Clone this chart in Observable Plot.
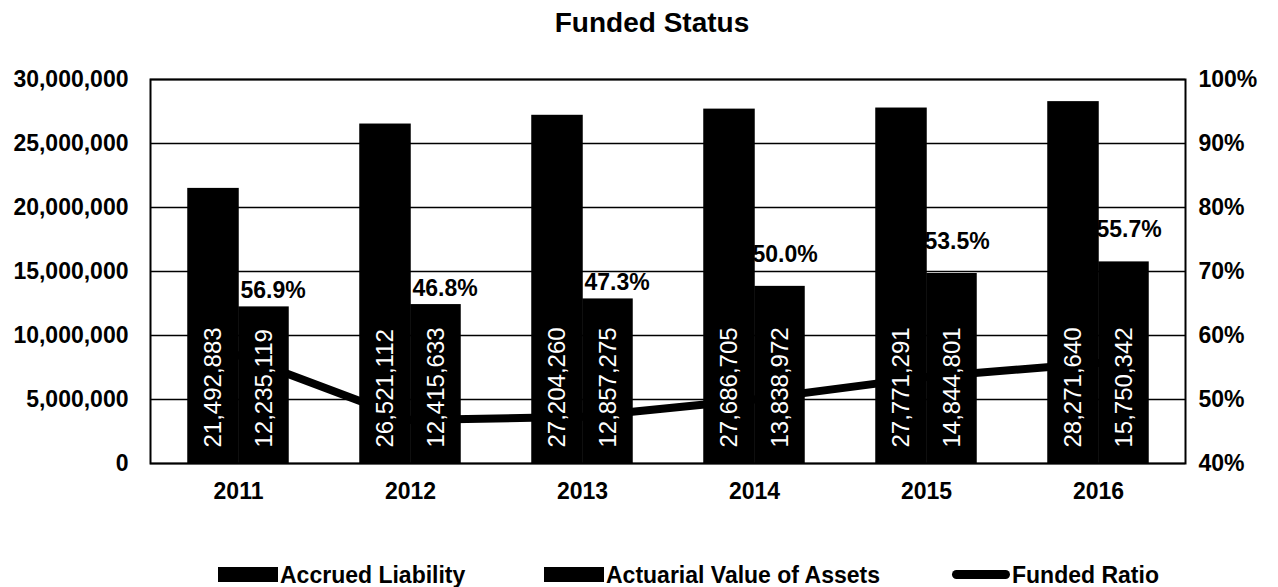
<!DOCTYPE html>
<html><head><meta charset="utf-8">
<script src="https://cdn.jsdelivr.net/npm/d3@7"></script>
<script src="https://cdn.jsdelivr.net/npm/@observablehq/plot@0.6"></script>
<style>
body{margin:0;background:#fff;font-family:"Liberation Sans",Arial,Helvetica,sans-serif;color:#000;}
#wrap{position:relative;width:1278px;height:587px;overflow:hidden;background:#fff}
#title{position:relative;height:50px;}
#title span{position:absolute;left:0;width:1304px;top:9px;text-align:center;font-weight:bold;font-size:28px;line-height:28px;}
#chart svg{display:block}
#legend{position:relative;height:67px;}
#legend .t{position:absolute;top:44px;font-weight:bold;font-size:23px;line-height:23px;white-space:nowrap}
#legend .sw{position:absolute;background:#000}
</style></head>
<body>
<div id="wrap">
  <div id="title"><span>Funded Status</span></div>
  <div id="chart"></div>
  <div id="legend"></div>
</div>
<script>
const years = ["2011", "2012", "2013", "2014", "2015", "2016"];
const accruedLiability = [21492883, 26521112, 27204260, 27686705, 27771291, 28271640];
const actuarialAssets = [12235119, 12415633, 12857275, 13838972, 14844801, 15750342];
const fundedRatio = [56.9, 46.8, 47.3, 50.0, 53.5, 55.7];
const leftTicks = [0, 5000000, 10000000, 15000000, 20000000, 25000000, 30000000];
const rightTicks = [40, 50, 60, 70, 80, 90, 100];
const seriesNames = ["Accrued Liability", "Actuarial Value of Assets", "Funded Ratio"];

const yMax = 30000000, pMin = 40, pMax = 100;
const toY = p => (p - pMin) / (pMax - pMin) * yMax;
const fromY = v => v / yMax * (pMax - pMin) + pMin;

const data = years.map((y, i) => ({
  year: y, accrued: accruedLiability[i], assets: actuarialAssets[i],
  ratio: fundedRatio[i], ry: toY(fundedRatio[i]), i
}));

const W = 1278, mL = 150, mR = 93;
const step = (W - mL - mR) / years.length;
const half = step / 2, barW = 51;
const fmt = d3.format(",");

const chart = Plot.plot({
  width: W, height: 470,
  marginTop: 29, marginBottom: 57, marginLeft: mL, marginRight: mR,
  style: {fontFamily: '"Liberation Sans", Arial, sans-serif', fontSize: "23px", fontWeight: "bold", color: "#000", background: "#fff"},
  x: {domain: years, padding: 0, label: null},
  y: {domain: [0, yMax], label: null},
  marks: [
    Plot.ruleY(leftTicks, {stroke: "#000", strokeWidth: 1.5}),
    Plot.lineY(data, {x: "year", y: "ry", stroke: "#000", strokeWidth: 8}),
    Plot.text(data.filter(d => d.i < 3), {x: "year", y: "assets", text: d => d.ratio.toFixed(1) + "%", textAnchor: "start", dx: 2, dy: -16, fontWeight: "bold", fontSize: 23, fill: "#000"}),
    Plot.text(data.filter(d => d.i >= 3), {x: "year", y: "assets", text: d => d.ratio.toFixed(1) + "%", textAnchor: "start", dx: -2, dy: -32, fontWeight: "bold", fontSize: 23, fill: "#000"}),
    Plot.barY(data, {x: "year", y: "accrued", fill: "#000", insetLeft: half - barW, insetRight: half - 1}),
    Plot.barY(data, {x: "year", y: "assets", fill: "#000", insetLeft: half, insetRight: half - barW}),
    Plot.text(data, {x: "year", y: d => 0, text: d => fmt(d.accrued), rotate: -90, textAnchor: "start", dx: -barW / 2, dy: -16, fill: "#fff", fontSize: 24, fontWeight: "normal"}),
    Plot.text(data, {x: "year", y: d => 0, text: d => fmt(d.assets), rotate: -90, textAnchor: "start", dx: barW / 2, dy: -16, fill: "#fff", fontSize: 24, fontWeight: "normal"}),
    Plot.axisY(leftTicks, {anchor: "left", tickSize: 0, tickPadding: 22, tickFormat: fmt, label: null}),
    Plot.axisY(rightTicks.map(toY), {anchor: "right", tickSize: 0, tickPadding: 13, tickFormat: v => Math.round(fromY(v)) + "%", label: null}),
    Plot.axisX({tickSize: 0, tickPadding: 19, label: null}),
    Plot.frame({stroke: "#000", strokeWidth: 2})
  ]
});
document.getElementById("chart").appendChild(chart);

// legend
const legend = document.getElementById("legend");
const items = [
  {name: seriesNames[0], sw: {left: 218, top: 47, width: 60, height: 15}, text: 280},
  {name: seriesNames[1], sw: {left: 544, top: 47, width: 60, height: 15}, text: 606},
  {name: seriesNames[2], sw: {left: 952, top: 50, width: 58, height: 9, radius: 5}, text: 1012}
];
for (const it of items) {
  const s = document.createElement("div");
  s.className = "sw";
  Object.assign(s.style, {left: it.sw.left + "px", top: it.sw.top + "px", width: it.sw.width + "px", height: it.sw.height + "px", borderRadius: (it.sw.radius || 0) + "px"});
  legend.appendChild(s);
  const t = document.createElement("div");
  t.className = "t";
  t.style.left = it.text + "px";
  t.textContent = it.name;
  legend.appendChild(t);
}
</script>
</body></html>
